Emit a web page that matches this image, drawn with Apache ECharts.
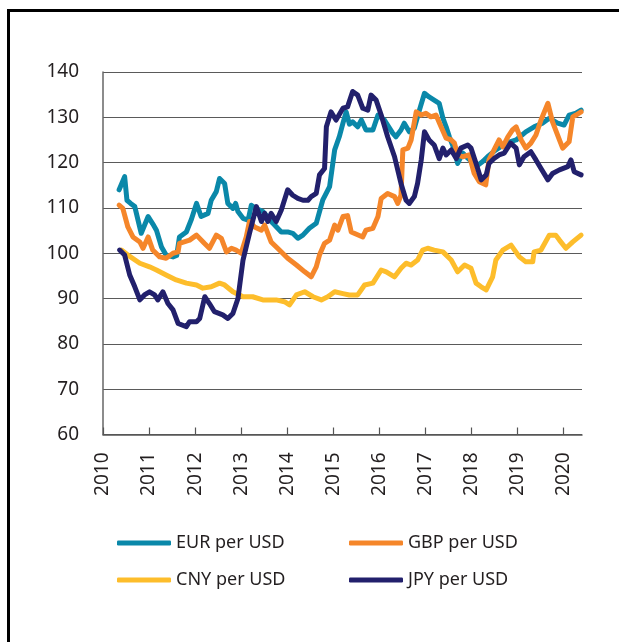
<!DOCTYPE html>
<html lang="en">
<head>
<meta charset="utf-8" />
<title>Currencies per USD</title>
<script src="https://cdn.jsdelivr.net/npm/echarts@6/dist/echarts.min.js"></script>
<style>
  body { margin: 0; background: #fff; }
  #chart { position: absolute; left: 0; top: 0; width: 619px; height: 642px; }
  #frame { position: absolute; left: 7px; top: 9px; width: 700px; height: 700px;
           border-left: 3px solid #000; border-top: 3px solid #000; pointer-events: none; }
</style>
</head>
<body>
<div id="chart"></div>
<div id="frame"></div>
<script type="text/javascript">
// index, 2010 = 100 ish. points are [year, value]
var yTicks = [60, 70, 80, 90, 100, 110, 120, 130, 140];
var names = ['EUR per USD', 'GBP per USD', 'CNY per USD', 'JPY per USD'];
var colors = ['#0a88a9', '#f5862a', '#fdbd2b', '#22206c'];

var eur = [[2010.35,114.0],[2010.47,116.9],[2010.52,111.7],[2010.60,111.0],[2010.69,110.3],[2010.83,104.4],[2010.98,108.1],[2011.08,106.5],[2011.16,105.1],[2011.27,101.4],[2011.37,99.6],[2011.52,99.2],[2011.60,99.5],[2011.66,103.6],[2011.81,104.7],[2011.92,107.5],[2012.03,111.0],[2012.13,108.1],[2012.28,108.8],[2012.35,111.7],[2012.46,113.6],[2012.53,116.5],[2012.64,115.4],[2012.71,111.0],[2012.82,109.9],[2012.88,111.0],[2012.93,109.2],[2013.04,107.7],[2013.15,107.3],[2013.22,110.6],[2013.30,110.0],[2013.47,109.2],[2013.58,108.0],[2013.69,106.6],[2013.87,104.7],[2014.01,104.7],[2014.12,104.4],[2014.23,103.3],[2014.34,104.0],[2014.48,105.5],[2014.63,106.6],[2014.77,111.7],[2014.92,114.7],[2015.03,122.8],[2015.13,125.7],[2015.21,128.7],[2015.28,131.2],[2015.35,128.5],[2015.42,129.0],[2015.53,127.9],[2015.61,129.4],[2015.71,127.2],[2015.86,127.2],[2015.97,130.5],[2016.11,129.4],[2016.29,126.5],[2016.36,125.7],[2016.47,127.2],[2016.54,128.7],[2016.65,126.8],[2016.76,127.6],[2016.87,131.6],[2016.98,135.3],[2017.08,134.5],[2017.19,133.8],[2017.30,133.1],[2017.38,129.8],[2017.45,127.9],[2017.52,125.7],[2017.63,122.8],[2017.70,119.8],[2017.81,122.1],[2017.92,121.0],[2018.03,120.0],[2018.15,119.5],[2018.25,120.3],[2018.35,121.3],[2018.53,122.8],[2018.75,124.3],[2018.97,125.0],[2019.18,126.8],[2019.36,127.9],[2019.54,128.7],[2019.69,129.8],[2019.87,128.7],[2020.01,128.3],[2020.12,130.5],[2020.27,130.9],[2020.38,131.6]];

var gbp = [[2010.35,110.6],[2010.43,109.9],[2010.54,105.8],[2010.65,103.6],[2010.80,102.5],[2010.87,101.1],[2010.98,103.6],[2011.08,100.7],[2011.23,99.2],[2011.37,98.9],[2011.52,100.0],[2011.63,100.3],[2011.66,102.2],[2011.88,102.9],[2012.03,104.0],[2012.20,102.2],[2012.31,101.1],[2012.46,104.0],[2012.57,103.3],[2012.68,100.3],[2012.79,101.1],[2012.89,100.7],[2013.00,100.0],[2013.11,103.6],[2013.18,107.0],[2013.29,105.8],[2013.44,105.1],[2013.51,106.2],[2013.65,102.5],[2013.83,100.7],[2014.01,98.9],[2014.20,97.4],[2014.38,95.9],[2014.52,94.8],[2014.63,97.0],[2014.70,99.6],[2014.81,102.2],[2014.92,102.9],[2015.03,106.2],[2015.10,105.1],[2015.21,108.1],[2015.31,108.3],[2015.39,104.7],[2015.64,103.6],[2015.71,105.1],[2015.86,105.5],[2015.97,108.1],[2016.04,112.1],[2016.18,113.2],[2016.33,112.5],[2016.40,111.0],[2016.47,112.8],[2016.51,122.8],[2016.62,123.2],[2016.69,125.0],[2016.80,131.2],[2016.91,130.5],[2017.01,130.9],[2017.12,130.1],[2017.23,130.5],[2017.34,127.9],[2017.45,125.4],[2017.56,125.0],[2017.63,124.3],[2017.70,121.7],[2017.81,121.3],[2017.95,121.7],[2018.06,117.6],[2018.17,115.8],[2018.31,115.1],[2018.38,120.6],[2018.49,122.8],[2018.60,125.0],[2018.68,123.5],[2018.79,125.7],[2018.89,127.2],[2018.97,127.9],[2019.08,125.0],[2019.18,123.2],[2019.29,124.3],[2019.40,126.1],[2019.51,129.4],[2019.66,133.1],[2019.76,129.0],[2019.91,125.0],[2019.98,123.2],[2020.12,124.6],[2020.20,130.1],[2020.27,130.5],[2020.38,131.2]];

var cny = [[2010.40,100.7],[2010.54,99.6],[2010.80,97.8],[2011.01,97.0],[2011.16,96.3],[2011.37,95.2],[2011.59,94.1],[2011.81,93.4],[2012.03,93.0],[2012.17,92.3],[2012.35,92.6],[2012.53,93.4],[2012.64,93.0],[2012.82,91.5],[2013.04,90.4],[2013.25,90.4],[2013.47,89.7],[2013.76,89.7],[2013.94,89.3],[2014.05,88.6],[2014.20,90.8],[2014.38,91.5],[2014.56,90.4],[2014.74,89.7],[2014.88,90.4],[2015.03,91.5],[2015.21,91.1],[2015.35,90.8],[2015.53,90.8],[2015.68,93.0],[2015.86,93.4],[2016.04,96.3],[2016.15,95.9],[2016.33,94.8],[2016.47,96.7],[2016.58,97.8],[2016.69,97.4],[2016.83,98.5],[2016.94,100.7],[2017.05,101.1],[2017.19,100.7],[2017.38,100.3],[2017.56,98.5],[2017.70,95.9],[2017.85,97.4],[2017.99,96.7],[2018.10,93.4],[2018.21,92.6],[2018.32,91.9],[2018.46,94.8],[2018.53,98.5],[2018.68,100.7],[2018.86,101.8],[2019.04,99.2],[2019.18,98.1],[2019.33,98.1],[2019.36,100.3],[2019.51,100.7],[2019.69,104.0],[2019.83,104.0],[2019.91,102.9],[2020.05,101.1],[2020.20,102.5],[2020.38,104.0]];

var jpy = [[2010.36,100.7],[2010.47,99.6],[2010.58,95.2],[2010.69,92.6],[2010.80,89.7],[2010.90,90.8],[2011.01,91.5],[2011.12,90.8],[2011.19,89.7],[2011.30,91.5],[2011.41,88.9],[2011.52,87.5],[2011.63,84.5],[2011.81,83.8],[2011.88,84.9],[2012.03,84.9],[2012.10,85.6],[2012.21,90.4],[2012.31,88.9],[2012.42,87.1],[2012.60,86.4],[2012.71,85.6],[2012.82,86.7],[2012.93,90.0],[2013.04,98.5],[2013.18,104.4],[2013.33,110.3],[2013.44,107.0],[2013.51,108.8],[2013.58,107.0],[2013.65,108.8],[2013.76,107.0],[2013.87,109.5],[2014.01,114.0],[2014.12,112.8],[2014.23,112.1],[2014.34,111.7],[2014.45,111.7],[2014.52,112.5],[2014.63,113.2],[2014.70,117.3],[2014.81,118.7],[2014.85,127.9],[2014.95,131.2],[2015.06,129.4],[2015.21,132.0],[2015.31,132.3],[2015.42,135.7],[2015.53,134.9],[2015.64,132.0],[2015.75,131.6],[2015.82,134.9],[2015.93,133.8],[2016.04,130.5],[2016.18,125.7],[2016.33,121.3],[2016.47,115.4],[2016.58,111.7],[2016.65,111.0],[2016.76,112.5],[2016.83,115.4],[2016.91,120.6],[2016.98,126.8],[2017.08,125.0],[2017.19,123.9],[2017.30,120.9],[2017.38,123.2],[2017.45,121.7],[2017.56,122.8],[2017.67,120.9],[2017.77,123.2],[2017.92,123.9],[2017.99,123.2],[2018.10,119.8],[2018.21,116.2],[2018.32,117.3],[2018.38,119.8],[2018.49,120.9],[2018.60,121.7],[2018.71,122.1],[2018.85,124.3],[2018.97,123.2],[2019.04,119.5],[2019.14,121.3],[2019.29,122.4],[2019.40,120.6],[2019.51,118.7],[2019.66,116.2],[2019.76,117.6],[2019.91,118.4],[2020.09,119.1],[2020.16,120.6],[2020.23,118.0],[2020.38,117.3]];

var chart = echarts.init(document.getElementById('chart'));
var font = '"Noto Sans", sans-serif';

function line(name, data, color) {
    return {
        name: name,
        type: 'line',
        data: data,
        symbol: 'none',
        smooth: false,
        lineStyle: { color: color, width: 5, join: 'round', cap: 'round' },
        itemStyle: { color: color },
        animation: false
    };
}

var legendText = { fontFamily: font, fontSize: 18, color: '#231f20', lineHeight: 20 };

var option = {
    animation: false,
    textStyle: { fontFamily: font },
    grid: { left: 103, right: 37, top: 72, bottom: 207.5 },
    legend: [
        {
            data: [names[0], names[2]], orient: 'vertical', left: 117, top: 533, padding: 0,
            itemWidth: 54, itemHeight: 5, itemGap: 17, icon: 'roundRect',
            textStyle: legendText
        },
        {
            data: [names[1], names[3]], orient: 'vertical', left: 349, top: 533, padding: 0,
            itemWidth: 54, itemHeight: 5, itemGap: 17, icon: 'roundRect',
            textStyle: legendText
        }
    ],
    xAxis: {
        type: 'value', min: 2010, max: 2020.4, interval: 1,
        axisLine: { show: true, lineStyle: { color: '#555', width: 1.5 } },
        axisTick: { show: true, inside: true, length: 7, lineStyle: { color: '#555', width: 1.2 } },
        splitLine: { show: false },
        axisLabel: {
            rotate: 90, margin: 18, fontSize: 19, color: '#231f20', fontFamily: font,
            showMaxLabel: false,
            padding: [5, 0, 0, 0],
            formatter: function (v) { return String(Math.round(v)); }
        }
    },
    yAxis: {
        type: 'value', min: yTicks[0], max: yTicks[yTicks.length - 1], interval: 10,
        axisLine: { show: true, lineStyle: { color: '#666', width: 1.5 } },
        axisTick: { show: false },
        splitLine: { show: true, lineStyle: { color: '#5a5a5a', width: 1.2 } },
        axisLabel: { margin: 24, fontSize: 19, color: '#231f20', fontFamily: font }
    },
    series: [
        line(names[2], cny, colors[2]),
        line(names[0], eur, colors[0]),
        line(names[1], gbp, colors[1]),
        line(names[3], jpy, colors[3])
    ]
};

chart.setOption(option);
</script>
</body>
</html>
